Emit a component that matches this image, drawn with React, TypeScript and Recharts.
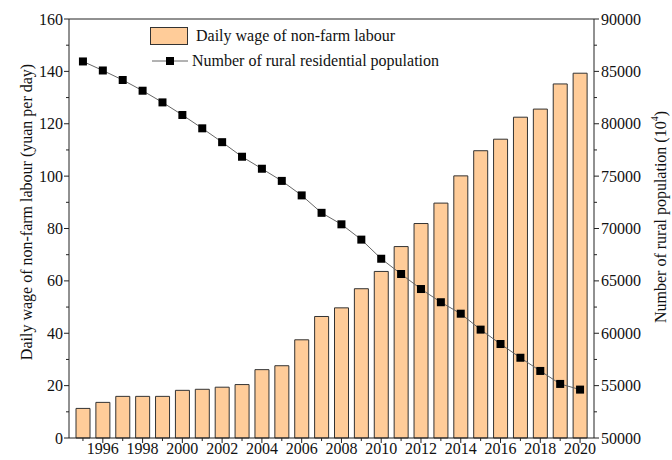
import { ComposedChart, Bar, Line, XAxis, YAxis, ReferenceLine, Label } from 'recharts'

document.body.style.margin = '0'

const years = [1995, 1996, 1997, 1998, 1999, 2000, 2001, 2002, 2003, 2004, 2005, 2006, 2007, 2008, 2009, 2010, 2011, 2012, 2013, 2014, 2015, 2016, 2017, 2018, 2019, 2020]
const wage = [11.3, 13.6, 15.9, 15.9, 15.9, 18.2, 18.6, 19.4, 20.4, 26.1, 27.6, 37.5, 46.4, 49.7, 57.0, 63.6, 73.1, 81.9, 89.7, 100.1, 109.7, 114.1, 122.5, 125.6, 135.2, 139.3]
const population = [85947, 85085, 84177, 83153, 82038, 80837, 79563, 78241, 76851, 75705, 74544, 73160, 71496, 70399, 68938, 67113, 65656, 64222, 62961, 61866, 60346, 58973, 57661, 56401, 55162, 54620]
const wageTicks = [0, 10, 20, 30, 40, 50, 60, 70, 80, 90, 100, 110, 120, 130, 140, 150, 160]
const popTicks = [50000, 52500, 55000, 57500, 60000, 62500, 65000, 67500, 70000, 72500, 75000, 77500, 80000, 82500, 85000, 87500, 90000]

const data = years.map((year, i) => ({ year, wage: wage[i], pop: population[i] }))

const FONT = '"Liberation Serif", "Times New Roman", serif'
const AXIS = '#222'
const BAR = '#FFCC99'

const LeftTick = (props: any) => {
  const { x, y, payload } = props
  const major = payload.value % 20 === 0
  const ax = x + 6
  return (
    <g>
      <line x1={ax} x2={ax - (major ? 5 : 3)} y1={y} y2={y} stroke={AXIS} />
      {major && (
        <text x={x} y={y} dy="0.35em" textAnchor="end" fontFamily={FONT} fontSize={16} fill="#111">
          {payload.value}
        </text>
      )}
    </g>
  )
}

const RightTick = (props: any) => {
  const { x, y, payload } = props
  const major = payload.value % 5000 === 0
  const ax = x - 7
  return (
    <g>
      <line x1={ax} x2={ax + (major ? 5 : 3)} y1={y} y2={y} stroke={AXIS} />
      {major && (
        <text x={x} y={y} dy="0.35em" textAnchor="start" fontFamily={FONT} fontSize={16} fill="#111">
          {payload.value}
        </text>
      )}
    </g>
  )
}

const BottomTick = (props: any) => {
  const { x, y, payload } = props
  const major = payload.value % 2 === 0
  const ay = y - 5
  return (
    <g>
      <line x1={x} x2={x} y1={ay} y2={ay + (major ? 5 : 3)} stroke={AXIS} />
      {major && (
        <text x={x} y={y} dy="0.71em" textAnchor="middle" fontFamily={FONT} fontSize={16} fill="#111">
          {payload.value}
        </text>
      )}
    </g>
  )
}

const SquareDot = (props: any) => {
  const { cx, cy } = props
  if (cx == null || cy == null) return null
  return <rect x={cx - 4} y={cy - 4} width={8} height={8} fill="#000" />
}

const LeftTitle = () => (
  <text x={26} y={212} transform="rotate(-90 26 212)" textAnchor="middle" dominantBaseline="central" fontFamily={FONT} fontSize={16} fill="#111">
    Daily wage of non-farm labour (yuan per day)
  </text>
)

const RightTitle = () => (
  <text x={660} y={217} transform="rotate(-90 660 217)" textAnchor="middle" dominantBaseline="central" fontFamily={FONT} fontSize={16} fill="#111">
    Number of rural population (10<tspan dy={-6} fontSize={10}>4</tspan><tspan dy={6}>)</tspan>
  </text>
)

export default function App() {
  return (
    <div style={{ position: 'relative', width: 672, height: 460, background: '#fff' }}>
      <ComposedChart width={672} height={460} data={data} margin={{ top: 19, right: 0, bottom: 0, left: 0 }}>
        <XAxis
          dataKey="year"
          type="category"
          interval={0}
          height={22}
          padding={{ left: 4, right: 4 }}
          tickSize={5}
          tickMargin={0}
          tickLine={false}
          tick={<BottomTick />}
          axisLine={{ stroke: AXIS }}
        />
        <YAxis
          yAxisId="left"
          orientation="left"
          width={69}
          domain={[0, 160]}
          ticks={wageTicks}
          interval={0}
          tickSize={5}
          tickMargin={1}
          tickLine={false}
          tick={<LeftTick />}
          axisLine={{ stroke: AXIS }}
        >
          <Label content={<LeftTitle />} />
        </YAxis>
        <YAxis
          yAxisId="right"
          orientation="right"
          width={78}
          domain={[50000, 90000]}
          ticks={popTicks}
          interval={0}
          tickSize={5}
          tickMargin={2}
          tickLine={false}
          tick={<RightTick />}
          axisLine={{ stroke: AXIS }}
        >
          <Label content={<RightTitle />} />
        </YAxis>
        <ReferenceLine yAxisId="left" y={160} stroke={AXIS} />
        <Bar yAxisId="left" dataKey="wage" fill={BAR} stroke="#333" strokeWidth={1} barSize={14} isAnimationActive={false} />
        <Line
          yAxisId="right"
          dataKey="pop"
          type="linear"
          stroke="#666"
          strokeWidth={1}
          dot={<SquareDot />}
          activeDot={false}
          isAnimationActive={false}
        />
      </ComposedChart>
      <div style={{ position: 'absolute', left: 150, top: 26, fontFamily: FONT, fontSize: 16, color: '#111', lineHeight: '20px' }}>
        <div style={{ display: 'flex', alignItems: 'center', height: 20 }}>
          <svg width={40} height={20}>
            <rect x={0.5} y={1.5} width={37} height={17} fill={BAR} stroke="#333" />
          </svg>
          <span style={{ marginLeft: 6 }}>Daily wage of non-farm labour</span>
        </div>
        <div style={{ display: 'flex', alignItems: 'center', height: 20, marginTop: 5 }}>
          <svg width={40} height={20}>
            <line x1={2} x2={38} y1={10} y2={10} stroke="#666" />
            <rect x={16} y={6} width={8} height={8} fill="#000" />
          </svg>
          <span style={{ marginLeft: 2 }}>Number of rural residential population</span>
        </div>
      </div>
    </div>
  )
}
